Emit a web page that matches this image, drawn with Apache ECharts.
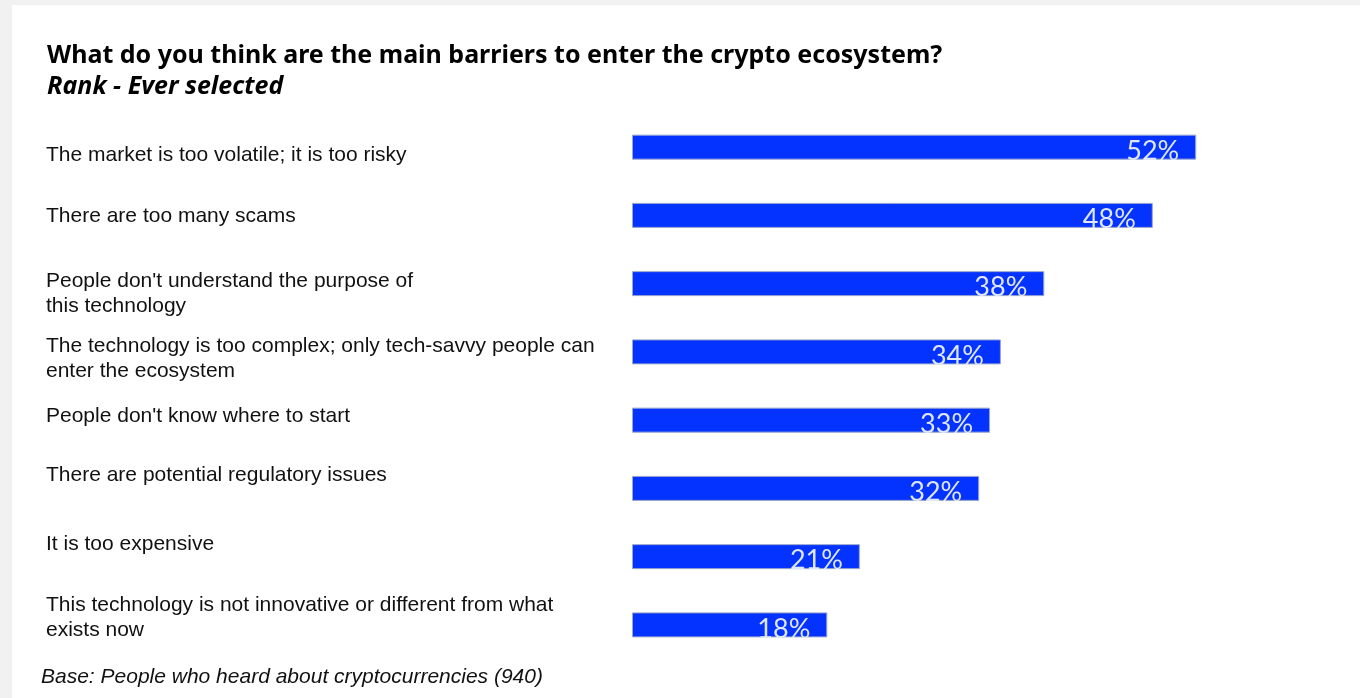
<!DOCTYPE html>
<html>
<head>
<meta charset="utf-8">
<script src="https://cdn.jsdelivr.net/npm/echarts@6/dist/echarts.min.js"></script>
<style>
  html, body { margin: 0; padding: 0; background: #f1f1f1; }
  #chart { position: absolute; left: 12px; top: 5px; width: 1348px; height: 693px; background: #ffffff; }
</style>
</head>
<body>
<div id="chart"></div>
<script>
// Barriers to entering crypto, share of respondents who ever selected each one (%)
const categories = [
  "The market is too volatile; it is too risky",
  "There are too many scams",
  "People don't understand the purpose of\nthis technology",
  "The technology is too complex; only tech-savvy people can\nenter the ecosystem",
  "People don't know where to start",
  "There are potential regulatory issues",
  "It is too expensive",
  "This technology is not innovative or different from what\nexists now"
];
const values = [52, 48, 38, 34, 33, 32, 21, 18];

const titleText = "What do you think are the main barriers to enter the crypto ecosystem?";
const subtitleText = "Rank - Ever selected";
const footnoteText = "Base: People who heard about cryptocurrencies (940)";

// vertical nudge (px) of each row's text relative to its bar (+ = down)
const labelShift = [8, 1, 10, 7, -4, -13, -12, -7];

// an empty spacer line above (or below) the text moves the centred block
const spacerRich = {};
labelShift.forEach((d, i) => {
  const h = Math.max(1, 2 * Math.abs(d));
  spacerRich['g' + i] = { fontSize: 1, lineHeight: h, height: h };
});
function formatCategory(name, i) {
  const d = labelShift[i];
  const lines = name.split('\n').map(t => '{t|' + t + '}').join('\n');
  if (d > 0) return '{g' + i + '| }\n' + lines;
  if (d < 0) return lines + '\n{g' + i + '| }';
  return lines;
}

const chart = echarts.init(document.getElementById('chart'), null, { renderer: 'canvas' });

chart.setOption({
  backgroundColor: '#ffffff',
  animation: false,
  title: [
    {
      text: titleText,
      left: 30, top: 33,
      textStyle: { fontFamily: 'Noto Sans', fontWeight: 'bold', fontSize: 25, color: '#000000' }
    },
    {
      text: subtitleText,
      left: 30, top: 64,
      textStyle: { fontFamily: 'Noto Sans', fontWeight: 'bold', fontStyle: 'italic', fontSize: 25, color: '#000000' }
    },
    {
      text: footnoteText,
      left: 24, top: 657,
      textStyle: { fontFamily: 'Liberation Sans', fontWeight: 'normal', fontStyle: 'italic', fontSize: 21, color: '#111111' }
    }
  ],
  grid: { left: 620, top: 108, width: 651, height: 546, containLabel: false, outerBoundsMode: 'none' },
  xAxis: {
    type: 'value', min: 0, max: 60,
    show: false
  },
  yAxis: {
    type: 'category',
    data: categories,
    inverse: true,
    axisLine: { show: false },
    axisTick: { show: false },
    splitLine: { show: false },
    axisLabel: {
      align: 'left',
      margin: 586,
      fontFamily: 'Liberation Sans',
      fontSize: 21,
      lineHeight: 25,
      color: '#111111',
      formatter: formatCategory,
      rich: Object.assign({
        t: { fontFamily: 'Liberation Sans', fontSize: 21, lineHeight: 25, color: '#111111' }
      }, spacerRich)
    }
  },
  series: [{
    type: 'bar',
    data: values,
    barWidth: 25,
    itemStyle: { color: '#0433ff', borderColor: '#9aa6cc', borderWidth: 1 },
    label: {
      show: true,
      position: 'insideRight',
      distance: 17,
      offset: [0, 4],
      formatter: '{c}%',
      fontFamily: 'Lato',
      fontWeight: 'normal',
      fontSize: 27,
      color: '#dfe7f5'
    }
  }]
});
</script>
</body>
</html>
